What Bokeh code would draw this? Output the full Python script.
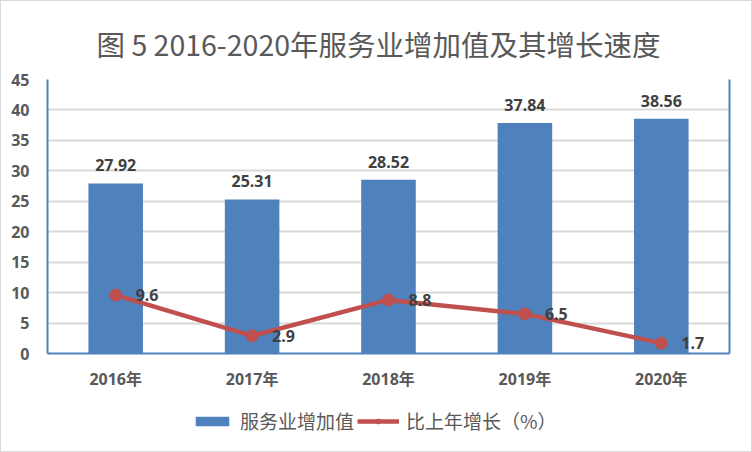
from bokeh.plotting import figure
from bokeh.layouts import column
from bokeh.core.properties import value
from bokeh.models import (ColumnDataSource, LinearAxis, Range1d, FactorRange,
                          Legend, LegendItem, SingleIntervalTicker, FixedTicker)
from bokeh.embed import file_html
from bokeh.resources import INLINE

years = ["2016年", "2017年", "2018年", "2019年", "2020年"]
added_value = [27.92, 25.31, 28.52, 37.84, 38.56]
growth = [9.6, 2.9, 8.8, 6.5, 1.7]
title_text = "图 5 2016-2020年服务业增加值及其增长速度"
bar_name = "服务业增加值"
line_name = "比上年增长（%）"

BLUE = "#4F81BD"
RED = "#C0504D"
NUMFONT = "Noto Sans"
TICKFONT = "Noto Sans, Noto Sans CJK SC"

src = ColumnDataSource(dict(
    x=years, v=added_value, g=growth,
    vl=["%.2f" % a for a in added_value],
    gl=[str(a) for a in growth],
))

p = figure(width=750, height=400, x_range=FactorRange(*years, range_padding=0),
           y_range=Range1d(0, 45), output_backend="svg", toolbar_location=None,
           min_border_left=46, min_border_right=22, min_border_top=78, min_border_bottom=48)

p.title.text = title_text
p.title.align = "left"
p.title.text_font = "Noto Sans CJK SC"
p.title.text_font_size = "28.5px"
p.title.text_font_style = "normal"
p.title.text_color = "#595959"
p.title.offset = 49
p.title.standoff = 31

p.outline_line_color = None

bars = p.vbar(x="x", top="v", width=0.4, source=src, fill_color=BLUE, line_color=None)
ln = p.line(x="x", y="g", source=src, line_color=RED, line_width=4.5)
pts = p.scatter(x="x", y="g", source=src, size=12, fill_color=RED, line_color=RED)

p.text(x="x", y="v", text="vl", source=src, text_align="center",
       text_baseline="alphabetic", y_offset=-18, text_font=value(NUMFONT),
       text_font_size="16px", text_font_style="bold", text_color="#404040")
p.text(x="x", y="g", text="gl", source=src, text_align="left",
       text_baseline="middle", x_offset=20, text_font=value(NUMFONT),
       text_font_size="16px", text_font_style="bold", text_color="#404040")

# axes
p.yaxis.ticker = SingleIntervalTicker(interval=5)
for ax in (p.xaxis[0], p.yaxis[0]):
    ax.axis_line_color = BLUE
    ax.axis_line_width = 2
    ax.major_tick_line_color = None
    ax.minor_tick_line_color = None
    ax.major_label_text_font = TICKFONT
    ax.major_label_text_font_size = "16px"
    ax.major_label_text_font_style = "bold"
    ax.major_label_text_color = "#595959"
p.yaxis.major_label_standoff = 12
p.xaxis.major_label_standoff = 8

right = LinearAxis(ticker=FixedTicker(ticks=[0]), major_label_overrides={0: ""},
                   axis_line_color=BLUE, axis_line_width=2, major_label_standoff=0,
                   major_tick_line_color=None, minor_tick_line_color=None)
p.add_layout(right, "right")

p.xgrid.grid_line_color = None
p.ygrid.grid_line_color = "#d9d9d9"
p.ygrid.grid_line_width = 2

# legend strip below the chart: same series, viewed through a range where no mark is visible
lg = figure(width=750, height=50, output_backend="svg", toolbar_location=None,
            x_range=FactorRange(*years), y_range=Range1d(1000, 1001), min_border=0)
lg.axis.visible = False
lg.grid.visible = False
lg.outline_line_color = None
lb = lg.vbar(x="x", top="v", width=0.4, source=src, fill_color=BLUE, line_color=None)
ll = lg.line(x="x", y="g", source=src, line_color=RED, line_width=4.5)
lp = lg.scatter(x="x", y="g", source=src, size=12, fill_color=RED, line_color=RED)

legend = Legend(items=[LegendItem(label=bar_name, renderers=[lb]),
                       LegendItem(label=line_name, renderers=[ll, lp])],
                orientation="horizontal", location=(144, 17),
                glyph_width=42, glyph_height=12, label_standoff=7, spacing=3,
                label_text_font="Noto Sans CJK SC", label_text_font_size="19px",
                label_text_color="#595959", background_fill_alpha=0,
                border_line_color=None, padding=0, margin=0)
lg.add_layout(legend, "center")

page = column(p, lg, spacing=0)
page.styles = {"border": "1px solid #d9d9d9"}

open("out.html", "w").write(file_html(page, INLINE))
